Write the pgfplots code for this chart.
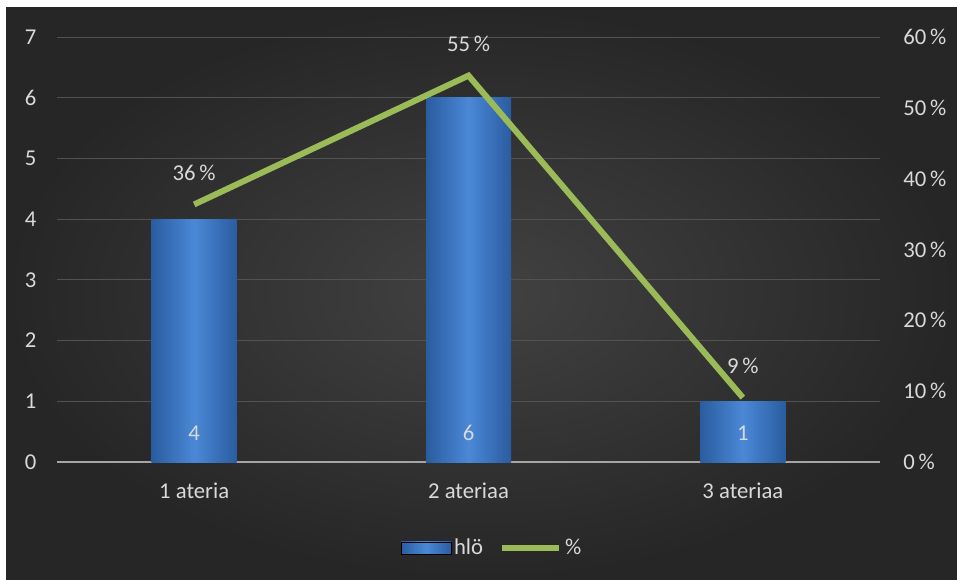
\documentclass[border=0pt]{standalone}
\usepackage{pgfplots}
\pgfplotsset{compat=1.18}
\usepackage{fontspec}
\setmainfont{Carlito}
\definecolor{txt}{RGB}{217,217,217}
\definecolor{gridc}{RGB}{82,82,82}
\definecolor{zeroc}{RGB}{165,165,165}
\definecolor{barmid}{RGB}{74,136,214}
\definecolor{baredge}{RGB}{42,92,160}
\definecolor{lgreen}{RGB}{155,187,89}
\newcommand{\lf}{\fontsize{17}{20}\selectfont}
\pgfplotsset{mybar/.style={ybar, bar width=63.75pt, draw=none, left color=baredge, right color=baredge, middle color=barmid}}
\begin{document}
\begin{tikzpicture}
\useasboundingbox (0pt,0pt) rectangle (717.75pt,434.25pt);
\fill[white] (0pt,0pt) rectangle (717.75pt,434.25pt);
\shade[inner color={rgb,255:red,66;green,66;blue,66}, outer color={rgb,255:red,38;green,38;blue,38}] (4.5pt,0pt) rectangle (717.75pt,428.25pt);
\begin{axis}[
  at={(42.75pt,87.75pt)}, anchor=south west,
  width=617.25pt, height=318.75pt, scale only axis,
  xmin=-0.5, xmax=2.5, ymin=0, ymax=7,
  xtick={0,1,2}, xticklabels={1 ateria, 2 ateriaa, 3 ateriaa},
  ytick={0,1,...,7},
  ymajorgrids, grid style={gridc, line width=0.75pt},
  axis line style={draw=none}, major tick length=0pt,
  tick label style={font=\lf, text=txt},
  yticklabel style={xshift=-12pt},
  xticklabel style={yshift=-12pt},
  /pgf/number format/assume math mode=true,
  extra y ticks={0}, extra y tick labels={},
  extra y tick style={grid style={zeroc, line width=1.6pt}},
  clip=false,
]
\addplot[mybar] coordinates {(0,4)};
\addplot[mybar] coordinates {(1,6)};
\addplot[mybar] coordinates {(2,1)};
\addplot[draw=none, mark=none, nodes near coords, point meta=explicit symbolic,
  every node near coord/.append style={anchor=center, text=txt, font=\lf}]
  coordinates {(0,0.48)[4] (1,0.48)[6] (2,0.48)[1]};
\end{axis}
\begin{axis}[
  at={(42.75pt,87.75pt)}, anchor=south west,
  width=617.25pt, height=318.75pt, scale only axis,
  xmin=-0.5, xmax=2.5, ymin=0, ymax=0.6,
  axis y line*=right, axis x line=none,
  ytick={0,0.1,0.2,0.3,0.4,0.5,0.6},
  yticklabels={0\,\%,10\,\%,20\,\%,30\,\%,40\,\%,50\,\%,60\,\%},
  axis line style={draw=none}, major tick length=0pt,
  tick label style={font=\lf, text=txt},
  yticklabel style={xshift=14pt},
  clip=false,
  legend columns=2,
  legend style={draw=none, fill=none, text=txt, font=\lf,
    at={(0.529,-0.202)}, anchor=center,
    /tikz/every even column/.append style={column sep=10pt}},
]
\addlegendimage{legend image code/.code={\fill[left color=baredge, right color=baredge, middle color=barmid] (0pt,-4.5pt) rectangle (37.5pt,4.5pt);}}
\addplot[lgreen, line width=4.5pt, mark=none,
  legend image code/.code={\draw[lgreen, line width=4.5pt] (0pt,0pt) -- (43pt,0pt);},
  nodes near coords, point meta=explicit symbolic,
  every node near coord/.append style={anchor=center, yshift=23.5pt, text=txt, font=\lf}]
  coordinates {(0,0.3636)[36\,\%] (1,0.5455)[55\,\%] (2,0.0909)[9\,\%]};
\legend{hlö,\%}
\end{axis}
\end{tikzpicture}
\end{document}
